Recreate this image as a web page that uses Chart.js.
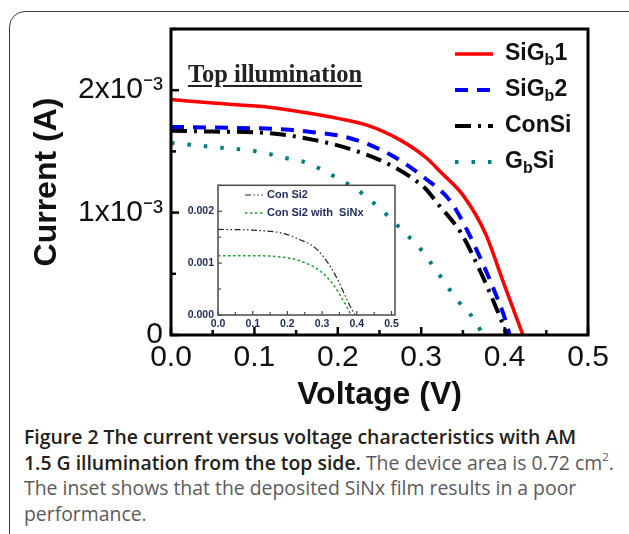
<!DOCTYPE html>
<html>
<head>
<meta charset="utf-8">
<title>I-V characteristics, top illumination</title>
<script src="https://cdn.jsdelivr.net/npm/chart.js@4.4.0/dist/chart.umd.min.js"></script>
<style>
  html, body { margin: 0; padding: 0; background: #fff; }
  body { width: 629px; height: 534px; overflow: hidden; position: relative; }
  #box { position: absolute; left: 9px; top: 11px; width: 680px; height: 600px;
         border: 1.5px solid #3c3c3c; border-radius: 16px; }
  #mainChart { position: absolute; left: 0; top: 0; }
  #insetChart { position: absolute; left: 150px; top: 175px; }
  #tag { position: absolute; left: 188px; top: 62px; font: bold 24.5px/24px "Liberation Serif", serif;
         color: #222; text-decoration: underline; text-underline-offset: 3px; white-space: nowrap; }
  #caption { position: absolute; left: 24px; top: 424px; width: 605px;
             font-family: "Open Sans", sans-serif; font-size: 19.4px; line-height: 25.6px;
             color: #5a5a5c; white-space: nowrap; }
  #caption b { color: #231f20; font-weight: 600; }
  #caption sup { font-size: 0.6em; line-height: 0; position: relative; top: -0.1em; }
</style>
</head>
<body>
<div id="box"></div>
<canvas id="mainChart" width="629" height="420"></canvas>
<canvas id="insetChart" width="260" height="165"></canvas>
<div id="tag">Top illumination</div>
<div id="caption"><b>Figure 2 The current versus voltage characteristics with AM<br>1.5 G illumination from the top side.</b> The device area is 0.72 cm<sup>2</sup>.<br>The inset shows that the deposited SiNx film results in a poor<br>performance.</div>

<script>
// ---- main plot data (voltage in V, current in A) ----
const sigb1Volt = [0, 0.05, 0.113, 0.155, 0.2, 0.235, 0.275, 0.307, 0.323, 0.35, 0.377, 0.399, 0.422];
const sigb1Curr = [1.924e-3, 1.895e-3, 1.864e-3, 1.823e-3, 1.77e-3, 1.714e-3, 1.592e-3, 1.442e-3, 1.333e-3, 1.143e-3, 0.83e-3, 0.422e-3, 0];

const sigb2Volt = [0, 0.05, 0.137, 0.173, 0.205, 0.239, 0.271, 0.305, 0.334, 0.353, 0.372, 0.389, 0.401, 0.406];
const sigb2Curr = [1.70e-3, 1.695e-3, 1.679e-3, 1.655e-3, 1.624e-3, 1.551e-3, 1.442e-3, 1.279e-3, 1.102e-3, 0.884e-3, 0.612e-3, 0.34e-3, 0.122e-3, 0];

const conSiVolt = [0, 0.05, 0.113, 0.173, 0.219, 0.255, 0.287, 0.305, 0.319, 0.348, 0.372, 0.391, 0.403];
const conSiCurr = [1.668e-3, 1.662e-3, 1.651e-3, 1.592e-3, 1.51e-3, 1.415e-3, 1.292e-3, 1.197e-3, 1.08e-3, 0.83e-3, 0.503e-3, 0.204e-3, 0];

const gbSiVolt = [0, 0.061, 0.101, 0.14, 0.159, 0.181, 0.2, 0.221, 0.239, 0.259, 0.279, 0.297, 0.312, 0.329, 0.343, 0.358, 0.372, 0.374];
const gbSiCurr = [1.57e-3, 1.529e-3, 1.502e-3, 1.442e-3, 1.415e-3, 1.35e-3, 1.279e-3, 1.197e-3, 1.102e-3, 0.98e-3, 0.843e-3, 0.721e-3, 0.585e-3, 0.422e-3, 0.286e-3, 0.177e-3, 0.027e-3, 0];

const voltTicks = [0, 0.1, 0.2, 0.3, 0.4, 0.5];
const voltTickLabels = ["0.0", "0.1", "0.2", "0.3", "0.4", "0.5"];
const currTicks = [0, 1e-3, 2e-3];
const currTickLabels = ["0", "1x10\u207B\u00B3", "2x10\u207B\u00B3"];

// ---- inset data ----
const conSi2Volt = [0, 0.1, 0.19, 0.236, 0.275, 0.303, 0.33, 0.35, 0.368, 0.382, 0.395];
const conSi2Curr = [1.65e-3, 1.635e-3, 1.57e-3, 1.45e-3, 1.32e-3, 1.13e-3, 0.865e-3, 0.609e-3, 0.35e-3, 0.15e-3, 0];
const sinxVolt = [0, 0.1, 0.215, 0.253, 0.282, 0.313, 0.335, 0.356, 0.371, 0.383];
const sinxCurr = [1.142e-3, 1.142e-3, 1.084e-3, 1.0e-3, 0.903e-3, 0.737e-3, 0.56e-3, 0.33e-3, 0.16e-3, 0];

const insetVoltTicks = [0, 0.1, 0.2, 0.3, 0.4, 0.5];
const insetVoltLabels = ["0.0", "0.1", "0.2", "0.3", "0.4", "0.5"];
const insetCurrTicks = [0, 0.001, 0.002];
const insetCurrLabels = ["0.000", "0.001", "0.002"];

const SANS = '"Liberation Sans", Arial, sans-serif';

function pts(xs, ys) {
  return xs.map((x, i) => ({ x: x, y: ys[i] }));
}

// frame around the plot area, with inward tick marks
const framePlugin = {
  id: "frame",
  afterDatasetsDraw(chart, args, o) {
    const { ctx, chartArea: a, scales } = chart;
    ctx.save();
    ctx.strokeStyle = o.color;
    ctx.lineWidth = o.tickWidth;
    for (let v = 0; v <= scales.x.max + 1e-9; v += o.xStep) {
      const major = Math.abs(v / (o.xStep * 2) - Math.round(v / (o.xStep * 2))) < 1e-6;
      const px = scales.x.getPixelForValue(v);
      ctx.beginPath();
      ctx.moveTo(px, a.bottom);
      ctx.lineTo(px, a.bottom - (major ? o.major : o.minor));
      ctx.stroke();
    }
    for (let v = 0; v <= scales.y.max + 1e-12; v += o.yStep) {
      const major = Math.abs(v / (o.yStep * 2) - Math.round(v / (o.yStep * 2))) < 1e-6;
      const py = scales.y.getPixelForValue(v);
      ctx.beginPath();
      ctx.moveTo(a.left, py);
      ctx.lineTo(a.left + (major ? o.major : o.minor), py);
      ctx.stroke();
    }
    ctx.lineWidth = o.width;
    ctx.strokeRect(a.left, a.top, a.right - a.left, a.bottom - a.top);
    ctx.restore();
  }
};

// legend drawn by hand so that "b" can sit as a subscript
const keyPlugin = {
  id: "key",
  afterDraw(chart, args, o) {
    const { ctx } = chart;
    ctx.save();
    chart.data.datasets.forEach((ds, i) => {
      const y = o.y + i * o.gap;
      ctx.strokeStyle = ds.borderColor;
      ctx.lineWidth = ds.borderWidth;
      ctx.setLineDash(ds.borderDash || []);
      ctx.beginPath();
      ctx.moveTo(o.x, y);
      ctx.lineTo(o.x + o.len, y);
      ctx.stroke();
      ctx.setLineDash([]);
      ctx.fillStyle = o.color;
      ctx.textBaseline = "middle";
      let tx = o.x + o.len + o.space;
      ds.parts.forEach((p, k) => {
        const sub = k % 2 === 1;
        ctx.font = o.weight + " " + (sub ? o.subSize : o.size) + "px " + SANS;
        ctx.fillText(p, tx, y + (sub ? o.subShift : 0));
        tx += ctx.measureText(p).width;
      });
    });
    ctx.restore();
  }
};

new Chart(document.getElementById("mainChart"), {
  type: "line",
  data: {
    datasets: [
      { label: "SiGb1", parts: ["SiG", "b", "1"], data: pts(sigb1Volt, sigb1Curr),
        borderColor: "#ff0000", borderWidth: 3.5, borderDash: [] },
      { label: "SiGb2", parts: ["SiG", "b", "2"], data: pts(sigb2Volt, sigb2Curr),
        borderColor: "#0000ff", borderWidth: 4, borderDash: [13, 9] },
      { label: "ConSi", parts: ["ConSi"], data: pts(conSiVolt, conSiCurr),
        borderColor: "#000000", borderWidth: 4, borderDash: [16, 7, 3, 7] },
      { label: "GbSi", parts: ["G", "b", "Si"], data: pts(gbSiVolt, gbSiCurr),
        borderColor: "#008080", borderWidth: 4, borderDash: [3.5, 13] }
    ]
  },
  options: {
    responsive: false,
    animation: false,
    layout: { padding: { left: 0, top: 29, right: 41, bottom: 0 } },
    elements: { point: { radius: 0 }, line: { cubicInterpolationMode: "monotone" } },
    plugins: {
      legend: { display: false },
      tooltip: { enabled: false },
      frame: { color: "#000", width: 3, tickWidth: 2.5, xStep: 0.05, yStep: 0.5e-3, major: 8, minor: 5 },
      key: { x: 455, y: 54, gap: 36, len: 38, space: 12, size: 23, subSize: 16, subShift: 7,
             weight: "bold", color: "#111" }
    },
    scales: {
      x: {
        type: "linear", min: 0, max: 0.5,
        afterBuildTicks: s => { s.ticks = voltTicks.map(v => ({ value: v })); },
        afterFit: s => { s.height = 85; },
        grid: { display: false, drawTicks: false },
        border: { display: false },
        ticks: { padding: 5, autoSkip: false, maxRotation: 0, color: "#111",
                 font: { family: SANS, size: 30 },
                 callback: (v, i) => voltTickLabels[i] },
        title: { display: true, text: "Voltage (V)", color: "#111",
                 font: { family: SANS, size: 32, weight: "bold" }, padding: { top: 0, bottom: 6 } }
      },
      y: {
        type: "linear", min: 0, max: 2.5e-3,
        afterBuildTicks: s => { s.ticks = currTicks.map(v => ({ value: v })); },
        afterFit: s => { s.width = 171; },
        grid: { display: false, drawTicks: false },
        border: { display: false },
        ticks: { padding: 8, autoSkip: false, color: "#111",
                 font: { family: SANS, size: 30 },
                 callback: (v, i) => currTickLabels[i] },
        title: { display: true, text: "Current (A)", color: "#111",
                 font: { family: SANS, size: 32, weight: "bold" }, padding: { top: 28, bottom: 0 } }
      }
    }
  },
  plugins: [framePlugin, keyPlugin]
});

// inset: Con Si2 with and without SiNx
new Chart(document.getElementById("insetChart"), {
  type: "line",
  data: {
    datasets: [
      { label: "Con Si2", parts: ["Con Si2"], data: pts(conSi2Volt, conSi2Curr),
        borderColor: "#222222", borderWidth: 1.2, borderDash: [6, 2.5, 1.5, 2.5, 1.5, 2.5] },
      { label: "Con Si2 with  SiNx", parts: ["Con Si2 with  SiNx"], data: pts(sinxVolt, sinxCurr),
        borderColor: "#1f9e2a", borderWidth: 1.5, borderDash: [2.5, 2.5] }
    ]
  },
  options: {
    responsive: false,
    animation: false,
    layout: { padding: { left: 0, top: 10, right: 15, bottom: 0 } },
    elements: { point: { radius: 0 }, line: { cubicInterpolationMode: "monotone" } },
    plugins: {
      legend: { display: false },
      tooltip: { enabled: false },
      frame: { color: "#4a4a4a", width: 1.5, tickWidth: 1.2, xStep: 0.05, yStep: 0.0005, major: 4, minor: 3 },
      key: { x: 95, y: 20, gap: 18, len: 18, space: 4, size: 11, subSize: 8, subShift: 3,
             weight: "bold", color: "#1c2a5c" }
    },
    scales: {
      x: {
        type: "linear", min: 0, max: 0.51,
        afterBuildTicks: s => { s.ticks = insetVoltTicks.map(v => ({ value: v })); },
        afterFit: s => { s.height = 25; },
        grid: { display: false, drawTicks: false },
        border: { display: false },
        ticks: { padding: 3, autoSkip: false, maxRotation: 0, color: "#1c2a5c",
                 font: { family: SANS, size: 10.5, weight: "bold" },
                 callback: (v, i) => insetVoltLabels[i] }
      },
      y: {
        type: "linear", min: 0, max: 0.0025,
        afterBuildTicks: s => { s.ticks = insetCurrTicks.map(v => ({ value: v })); },
        afterFit: s => { s.width = 68; },
        grid: { display: false, drawTicks: false },
        border: { display: false },
        ticks: { padding: 4, autoSkip: false, color: "#1c2a5c",
                 font: { family: SANS, size: 10.5, weight: "bold" },
                 callback: (v, i) => insetCurrLabels[i] }
      }
    }
  },
  plugins: [framePlugin, keyPlugin]
});
</script>
</body>
</html>
